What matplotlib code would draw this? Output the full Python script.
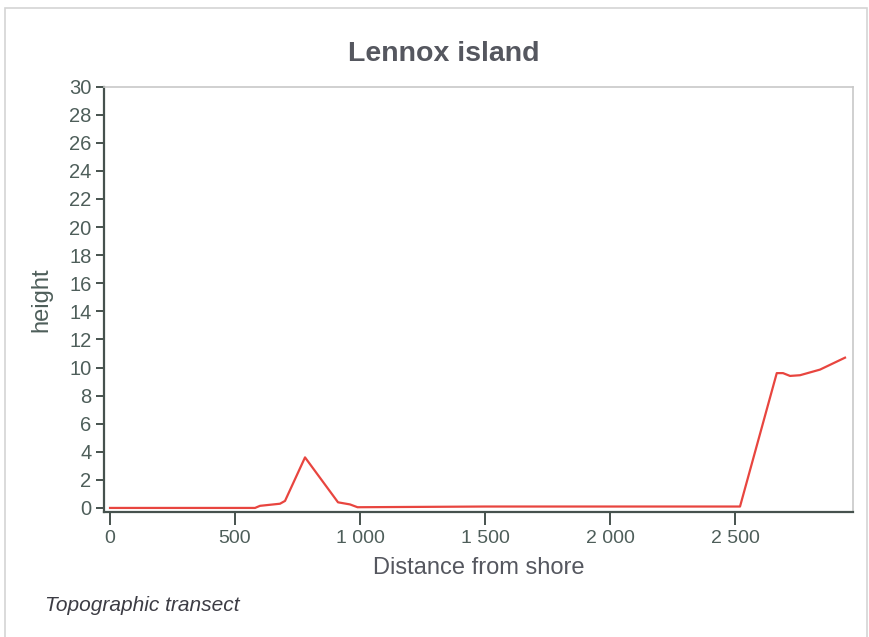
import matplotlib.pyplot as plt
from matplotlib.patches import Rectangle
from matplotlib.ticker import FuncFormatter

# transect profile
distance = [0, 200, 400, 580, 600, 680, 700, 780, 912, 960, 990,
            1500, 2000, 2520, 2667, 2692, 2720, 2760, 2840, 2940]
height = [0, 0, 0, 0, 0.15, 0.3, 0.5, 3.6, 0.4, 0.25, 0.05,
          0.1, 0.1, 0.1, 9.6, 9.6, 9.4, 9.45, 9.85, 10.7]

x_ticks = [0, 500, 1000, 1500, 2000, 2500]
y_ticks = list(range(0, 31, 2))

plt.rcParams['font.family'] = ['Liberation Sans', 'DejaVu Sans']

fig = plt.figure(figsize=(8.69, 6.37), dpi=100)
ax = fig.add_axes([0.1197, 0.196, 0.8619, 0.668])

ax.plot(distance, height, color='#e8453f', linewidth=1.6)

ax.set_xlim(-24, 2972)
ax.set_ylim(-0.3, 30)
ax.set_xticks(x_ticks)
ax.set_yticks(y_ticks)
ax.xaxis.set_major_formatter(FuncFormatter(lambda v, p: f'{int(v):,}'.replace(',', ' ')))

axis_col = '#46524e'
label_col = '#4e5e5a'
for s in ['left', 'bottom']:
    ax.spines[s].set_color(axis_col)
    ax.spines[s].set_linewidth(1.6)
for s in ['top', 'right']:
    ax.spines[s].set_color('#c8c8c8')
    ax.spines[s].set_linewidth(1.2)

ax.tick_params(axis='y', direction='out', length=6, width=1.4, color=axis_col,
               labelsize=14.5, labelcolor=label_col, pad=3)
ax.tick_params(axis='x', direction='out', length=9, width=1.4, color=axis_col,
               labelsize=14, labelcolor=label_col, pad=4)

fig.text(0.511, 0.915, 'Lennox island', fontsize=20.5, fontweight='bold',
         color='#55575f', ha='center', va='center')
ax.set_xlabel('Distance from shore', fontsize=17, color='#55575f', labelpad=7)
ax.set_ylabel('height', fontsize=17, color=label_col, labelpad=12)

fig.text(0.052, 0.05, 'Topographic transect', fontsize=15, style='italic',
         color='#3c3c44', va='center')

# light frame round the whole chart
fig.patches.append(Rectangle((0.006, -0.01), 0.992, 0.997, transform=fig.transFigure,
                             fill=False, edgecolor='#d4d4d4', linewidth=1.2))

fig.savefig('out.png', dpi=100)
